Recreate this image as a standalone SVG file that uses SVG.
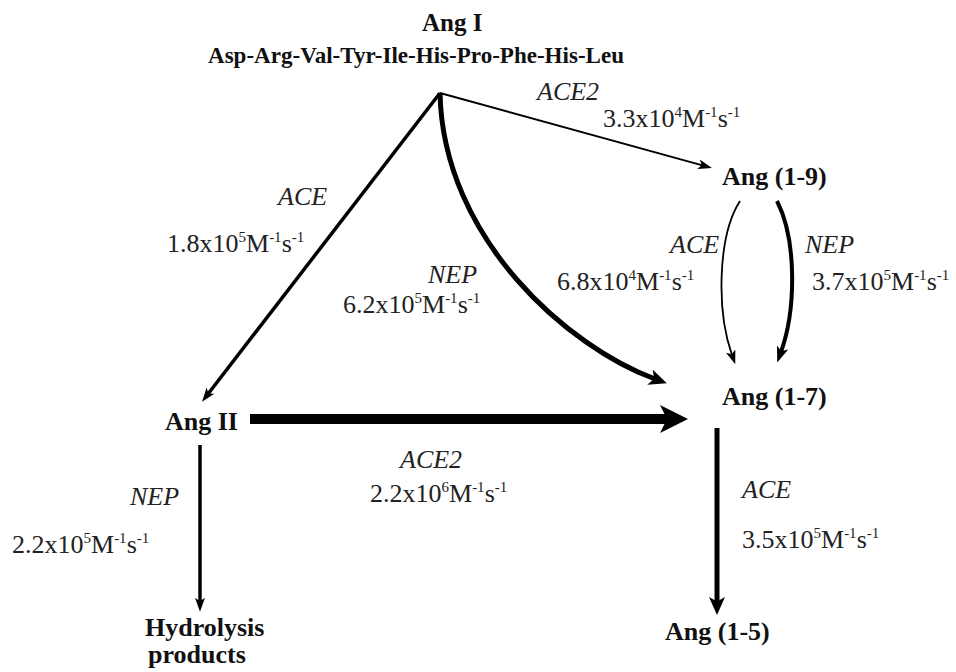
<svg xmlns="http://www.w3.org/2000/svg" width="956" height="672" viewBox="0 0 956 672">
<style>
.node{font-family:"Liberation Serif","Times New Roman",serif;font-weight:bold;font-size:26px;fill:#111}
.lab{font-family:"Liberation Serif","Times New Roman",serif;font-size:26px;fill:#222}
.enz{font-style:italic}
.sup{font-size:15px}
.ln{fill:none;stroke:#000;stroke-linecap:butt}
</style>
<defs>
<marker id="aBig" viewBox="0 0 28 28" markerUnits="userSpaceOnUse" markerWidth="28" markerHeight="28" refX="8.4" refY="14" orient="auto">
<path d="M0,0 L28,14 L0,28 L7,14 z" fill="#000"/>
</marker>
<marker id="aMed" viewBox="0 0 18 16" markerUnits="userSpaceOnUse" markerWidth="18" markerHeight="16" refX="5.4" refY="8" orient="auto">
<path d="M0,0 L18,8 L0,16 L4.5,8 z" fill="#000"/>
</marker>
<marker id="aSm" viewBox="0 0 14 10" markerUnits="userSpaceOnUse" markerWidth="14" markerHeight="10" refX="4.2" refY="5" orient="auto">
<path d="M0,0 L14,5 L0,10 L3.5,5 z" fill="#000"/>
</marker>
<marker id="aSm2" viewBox="0 0 16 12" markerUnits="userSpaceOnUse" markerWidth="16" markerHeight="12" refX="4.8" refY="6" orient="auto">
<path d="M0,0 L16,6 L0,12 L4,6 z" fill="#000"/>
</marker>
</defs>
<rect width="956" height="672" fill="#fff"/>

<g id="connectors">
<line class="ln" x1="440" y1="93" x2="208" y2="394" stroke-width="3.5" marker-end="url(#aSm)"/>
<line class="ln" x1="440" y1="93" x2="702.5" y2="165.4" stroke-width="2" marker-end="url(#aSm)"/>
<path class="ln" d="M440,93 C443,240 570,348 655,379" stroke-width="5" marker-end="url(#aMed)"/>
<path class="ln" d="M740,201 C718,235 716,310 732,355" stroke-width="1.8" marker-end="url(#aSm)"/>
<path class="ln" d="M777,201 C797,240 796,310 781,352" stroke-width="4" marker-end="url(#aSm2)"/>
<line class="ln" x1="250" y1="419" x2="668.4" y2="419" stroke-width="10" marker-end="url(#aBig)"/>
<line class="ln" x1="200" y1="445" x2="200" y2="602" stroke-width="3.5" marker-end="url(#aSm)"/>
<line class="ln" x1="717" y1="428" x2="717" y2="602.4" stroke-width="5" marker-end="url(#aMed)"/>

<text class="lab enz" x="537" y="100">ACE2</text>
<text class="lab" x="603" y="127">3.3x10<tspan class="sup" dy="-10">4</tspan><tspan dy="10">M</tspan><tspan class="sup" dy="-10">-1</tspan><tspan dy="10">s</tspan><tspan class="sup" dy="-10">-1</tspan></text>

<text class="lab enz" x="278" y="205">ACE</text>
<text class="lab" x="167" y="252">1.8x10<tspan class="sup" dy="-10">5</tspan><tspan dy="10">M</tspan><tspan class="sup" dy="-10">-1</tspan><tspan dy="10">s</tspan><tspan class="sup" dy="-10">-1</tspan></text>

<text class="lab enz" x="428" y="283">NEP</text>
<text class="lab" x="343" y="313">6.2x10<tspan class="sup" dy="-10">5</tspan><tspan dy="10">M</tspan><tspan class="sup" dy="-10">-1</tspan><tspan dy="10">s</tspan><tspan class="sup" dy="-10">-1</tspan></text>

<text class="lab enz" x="670" y="253">ACE</text>
<text class="lab" x="557" y="290">6.8x10<tspan class="sup" dy="-10">4</tspan><tspan dy="10">M</tspan><tspan class="sup" dy="-10">-1</tspan><tspan dy="10">s</tspan><tspan class="sup" dy="-10">-1</tspan></text>

<text class="lab enz" x="805" y="253">NEP</text>
<text class="lab" x="812" y="290">3.7x10<tspan class="sup" dy="-10">5</tspan><tspan dy="10">M</tspan><tspan class="sup" dy="-10">-1</tspan><tspan dy="10">s</tspan><tspan class="sup" dy="-10">-1</tspan></text>

<text class="lab enz" x="400" y="468">ACE2</text>
<text class="lab" x="370" y="502">2.2x10<tspan class="sup" dy="-10">6</tspan><tspan dy="10">M</tspan><tspan class="sup" dy="-10">-1</tspan><tspan dy="10">s</tspan><tspan class="sup" dy="-10">-1</tspan></text>

<text class="lab enz" x="130" y="505">NEP</text>
<text class="lab" x="12" y="553">2.2x10<tspan class="sup" dy="-10">5</tspan><tspan dy="10">M</tspan><tspan class="sup" dy="-10">-1</tspan><tspan dy="10">s</tspan><tspan class="sup" dy="-10">-1</tspan></text>

<text class="lab enz" x="742" y="498">ACE</text>
<text class="lab" x="742" y="548">3.5x10<tspan class="sup" dy="-10">5</tspan><tspan dy="10">M</tspan><tspan class="sup" dy="-10">-1</tspan><tspan dy="10">s</tspan><tspan class="sup" dy="-10">-1</tspan></text>
</g>

<g id="angI">
<text class="node" x="422" y="31" style="font-size:25px">Ang I</text>
<text class="node" x="208" y="63" style="font-size:23px" textLength="416" lengthAdjust="spacingAndGlyphs">Asp-Arg-Val-Tyr-Ile-His-Pro-Phe-His-Leu</text>
</g>
<g id="ang19">
<text class="node" x="722" y="185">Ang (1-9)</text>
</g>
<g id="ang17">
<text class="node" x="722" y="405">Ang (1-7)</text>
</g>
<g id="angII">
<text class="node" x="165" y="430">Ang II</text>
</g>
<g id="hydrolysis">
<text class="node" x="145" y="636">Hydrolysis</text>
<text class="node" x="148" y="663">products</text>
</g>
<g id="ang15">
<text class="node" x="665" y="640">Ang (1-5)</text>
</g>
</svg>
